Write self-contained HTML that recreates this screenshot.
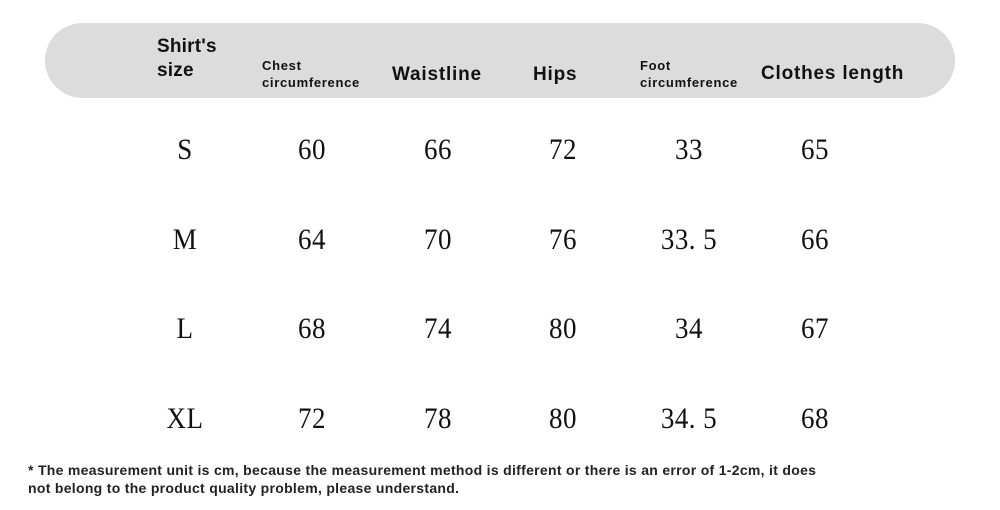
<!DOCTYPE html>
<html><head><style>
body{margin:0;width:1000px;height:510px;background:#fff;position:relative;overflow:hidden;font-family:"Liberation Sans",sans-serif}
.bar{position:absolute;left:45px;top:23px;width:910px;height:75px;background:#dcdcdc;border-radius:38px}
.h{position:absolute;font-weight:bold;color:#111;white-space:nowrap;line-height:1}
.b{font-size:19px;letter-spacing:0.8px}
.s{font-size:13px;letter-spacing:0.7px}
.v{position:absolute;font-family:"Liberation Serif",serif;font-size:30px;color:#111;transform:translate(-50%,-50%) scaleX(0.9);white-space:nowrap;letter-spacing:0.5px}
.f{position:absolute;left:28px;font-size:14px;font-weight:bold;color:#222;white-space:nowrap;line-height:1;letter-spacing:0.3px}
</style></head><body>
<div class="bar"></div>
<div class="h b" style="left:157px;top:37px;letter-spacing:0.2px">Shirt's</div>
<div class="h b" style="left:157px;top:61px;letter-spacing:0.2px">size</div>
<div class="h s" style="left:262px;top:59px">Chest</div>
<div class="h s" style="left:262px;top:76px">circumference</div>
<div class="h b" style="left:392px;top:65px">Waistline</div>
<div class="h b" style="left:533px;top:65px">Hips</div>
<div class="h s" style="left:640px;top:59px">Foot</div>
<div class="h s" style="left:640px;top:76px">circumference</div>
<div class="h b" style="left:761px;top:64px">Clothes length</div>

<div class="v" style="left:185px;top:150px">S</div><div class="v" style="left:312px;top:150px">60</div><div class="v" style="left:438px;top:150px">66</div><div class="v" style="left:563px;top:150px">72</div><div class="v" style="left:689px;top:150px">33</div><div class="v" style="left:815px;top:150px">65</div>
<div class="v" style="left:185px;top:240px">M</div><div class="v" style="left:312px;top:240px">64</div><div class="v" style="left:438px;top:240px">70</div><div class="v" style="left:563px;top:240px">76</div><div class="v" style="left:689px;top:240px">33.&nbsp;5</div><div class="v" style="left:815px;top:240px">66</div>
<div class="v" style="left:185px;top:329px">L</div><div class="v" style="left:312px;top:329px">68</div><div class="v" style="left:438px;top:329px">74</div><div class="v" style="left:563px;top:329px">80</div><div class="v" style="left:689px;top:329px">34</div><div class="v" style="left:815px;top:329px">67</div>
<div class="v" style="left:185px;top:419px">XL</div><div class="v" style="left:312px;top:419px">72</div><div class="v" style="left:438px;top:419px">78</div><div class="v" style="left:563px;top:419px">80</div><div class="v" style="left:689px;top:419px">34.&nbsp;5</div><div class="v" style="left:815px;top:419px">68</div>

<div class="f" style="top:463px">* The measurement unit is cm, because the measurement method is different or there is an error of 1-2cm, it does</div>
<div class="f" style="top:481px">not belong to the product quality problem, please understand.</div>
</body></html>
